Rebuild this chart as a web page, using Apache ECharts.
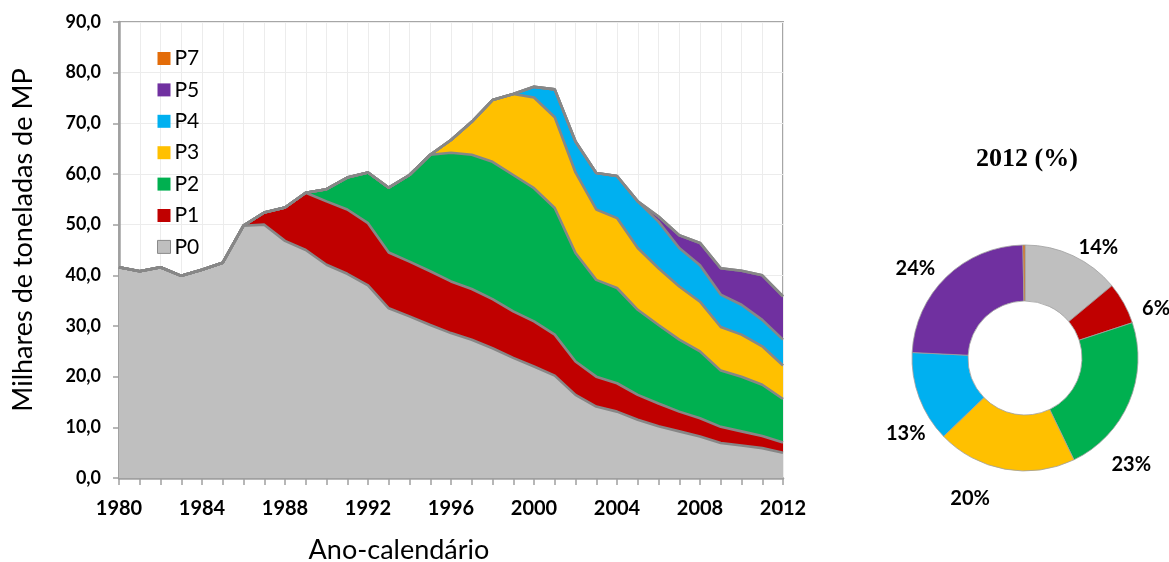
<!DOCTYPE html>
<html>
<head>
<meta charset="utf-8">
<script src="https://cdn.jsdelivr.net/npm/echarts@6/dist/echarts.min.js"></script>
<style>
  html, body { margin: 0; padding: 0; background: #ffffff; }
  #chart { width: 1169px; height: 562px; }
</style>
</head>
<body>
<div id="chart"></div>
<script>
// Years on the horizontal axis
const years = ['1980','1981','1982','1983','1984','1985','1986','1987','1988','1989',
  '1990','1991','1992','1993','1994','1995','1996','1997','1998','1999',
  '2000','2001','2002','2003','2004','2005','2006','2007','2008','2009',
  '2010','2011','2012'];

// Thousands of tonnes per class, stacked from P0 upward
const P0 = [41.6,40.8,41.6,39.9,41.1,42.5,49.8,50.0,46.8,45.0,
  42.1,40.3,38.0,33.5,31.9,30.2,28.6,27.3,25.6,23.7,
  22.0,20.2,16.4,14.1,13.1,11.5,10.2,9.2,8.2,6.9,
  6.4,5.9,5.0];
const P1 = [0,0,0,0,0,0,0,2.4,6.6,11.3,
  12.5,12.7,12.3,11.0,10.8,10.6,10.2,10.0,9.7,9.2,
  8.9,8.1,6.6,5.9,5.6,4.9,4.5,3.9,3.6,3.2,
  2.8,2.4,2.0];
const P2 = [0,0,0,0,0,0,0,0,0,0,
  2.4,6.3,10.0,12.8,17.1,23.0,25.4,26.5,27.1,26.9,
  26.3,25.0,21.4,19.1,18.8,16.8,15.5,14.2,13.2,11.1,
  10.8,10.1,8.6];
const P3 = [0,0,0,0,0,0,0,0,0,0,
  0,0,0,0,0,0,2.5,6.5,12.2,16.0,
  17.9,17.9,15.9,13.9,13.8,12.2,11.2,10.5,9.8,8.6,
  8.3,7.6,6.6];
const P4 = [0,0,0,0,0,0,0,0,0,0,
  0,0,0,0,0,0,0,0,0,0,
  2.1,5.5,6.1,7.2,8.3,9.2,9.2,7.6,7.2,6.4,
  5.9,5.2,5.1];
const P5 = [0,0,0,0,0,0,0,0,0,0,
  0,0,0,0,0,0,0,0,0,0,
  0,0,0,0,0,0,1.0,2.5,4.4,5.2,
  6.7,8.8,8.5];
const P7 = [0,0,0,0,0,0,0,0,0,0,
  0,0,0,0,0,0,0,0,0,0,
  0,0,0,0,0,0,0,0,0,0,
  0,0,0.1];

// 2012 shares (%) by class
const shareNames = ['P0','P1','P2','P3','P4','P5','P7'];
const share2012 = [14,6,23,20,13,24,0.3];

const yTicks = { min: 0, max: 90, step: 10 };

const colors = {
  P0: '#bfbfbf', P1: '#c00000', P2: '#00b050', P3: '#ffc000',
  P4: '#00b0f0', P5: '#7030a0', P7: '#e36c09'
};

// small shifts that keep the percentage labels clear of each other
const labelNudge = {
  P0: [-2, -3], P1: [8, 8], P2: [-28, 60], P3: [-9, 23], P4: [17, 34], P5: [-2, -4], P7: [0, 0]
};

const stackSeries = [['P0',P0],['P1',P1],['P2',P2],['P3',P3],['P4',P4],['P5',P5],['P7',P7]]
  .map(([name, data]) => ({
    name: name,
    type: 'line',
    stack: 'total',
    data: data,
    showSymbol: false,
    symbol: 'none',
    color: colors[name],
    lineStyle: { color: '#878787', width: 2.6 },
    areaStyle: { color: colors[name], opacity: 1 },
    emphasis: { disabled: true },
    z: 2
  }));

const font = 'Lato, "Open Sans", sans-serif';

const chart = echarts.init(document.getElementById('chart'));
chart.setOption({
  animation: false,
  backgroundColor: '#ffffff',
  title: {
    text: '2012 (%)',
    left: 1022,
    top: 141,
    textAlign: 'center',
    textStyle: { fontFamily: '"Liberation Serif", serif', fontWeight: 'bold', fontSize: 26, color: '#000' }
  },
  legend: {
    data: ['P7','P5','P4','P3','P2','P1',
      { name: 'P0', itemStyle: { borderColor: '#8a8a8a', borderWidth: 1 } }],
    orient: 'vertical',
    left: 152,
    top: 43,
    itemWidth: 13,
    itemHeight: 13,
    itemGap: 10.4,
    icon: 'rect',
    itemStyle: { borderWidth: 0 },
    textStyle: { fontFamily: font, fontSize: 21, color: '#000', padding: [0, 0, 0, -1] }
  },
  grid: {
    left: 119, right: 386, top: 22, bottom: 84,
    outerBoundsMode: 'none',
    containLabel: false,
    show: true, borderColor: '#a6a6a6', borderWidth: 2
  },
  xAxis: {
    type: 'category',
    data: years,
    boundaryGap: false,
    name: 'Ano-calendário',
    nameLocation: 'middle',
    nameGap: 59,
    nameTextStyle: { fontFamily: font, fontSize: 27, color: '#000', padding: [0, 104, 0, 0] },
    axisLine: { lineStyle: { color: '#a0a0a0', width: 2.5 } },
    axisTick: { show: true, interval: 0, length: 7, lineStyle: { color: '#a0a0a0', width: 1.5 } },
    axisLabel: { interval: 3, fontFamily: font, fontWeight: 'bold', fontSize: 20, color: '#000', margin: 21 },
    splitLine: { show: true, interval: 0, lineStyle: { color: '#ececec', width: 1 } }
  },
  yAxis: {
    type: 'value',
    min: yTicks.min, max: yTicks.max, interval: yTicks.step,
    name: 'Milhares de toneladas de MP',
    nameLocation: 'middle',
    nameGap: 82,
    nameTextStyle: { fontFamily: font, fontSize: 27, color: '#000', padding: [0, 0, 0, 20] },
    axisLine: { show: true, lineStyle: { color: '#a0a0a0', width: 2.5 } },
    axisTick: { show: true, length: 6, lineStyle: { color: '#a0a0a0', width: 1.5 } },
    axisLabel: {
      fontFamily: font, fontWeight: 'bold', fontSize: 18, color: '#000', margin: 18,
      formatter: v => v.toFixed(1).replace('.', ',')
    },
    splitLine: { show: true, lineStyle: { color: '#ececec', width: 1 } }
  },
  series: stackSeries.concat([{
    name: '2012',
    type: 'pie',
    center: [1025, 358],
    radius: [57, 113],
    startAngle: 90,
    clockwise: true,
    avoidLabelOverlap: false,
    emphasis: { disabled: true },
    itemStyle: { borderColor: '#a0a0a0', borderWidth: 0.8 },
    label: {
      show: true,
      position: 'outside',
      fontFamily: font,
      fontWeight: 'bold',
      fontSize: 20,
      color: '#000',
      formatter: p => (p.name === 'P7' ? '' : p.value + '%')
    },
    labelLine: { show: false, length: 6, length2: 0 },
    data: shareNames.map((n, i) => ({
      name: n,
      value: share2012[i],
      itemStyle: { color: colors[n] },
      label: { offset: labelNudge[n] }
    }))
  }])
});
</script>
</body>
</html>
